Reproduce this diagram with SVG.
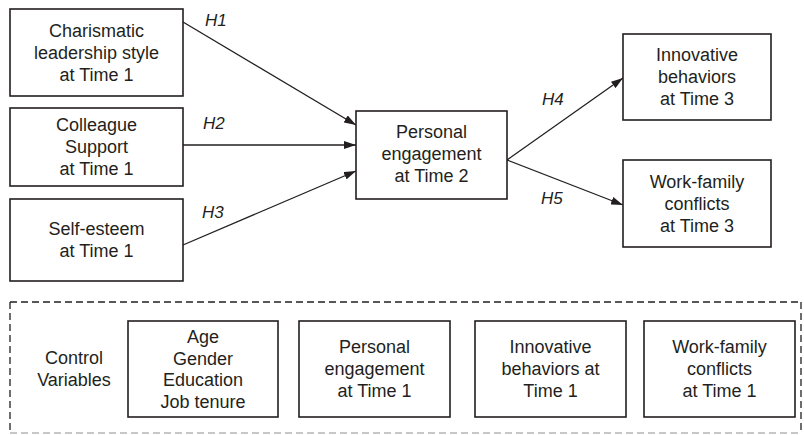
<svg xmlns="http://www.w3.org/2000/svg" width="804" height="435" viewBox="0 0 804 435">
<style>
.box{fill:#fff;stroke:#231f20;stroke-width:1.6}
.t{font-family:"Liberation Sans",Arial,sans-serif;font-size:18px;fill:#231f20;text-anchor:middle}
.h{font-family:"Liberation Sans",Arial,sans-serif;font-size:17px;font-style:italic;fill:#231f20}
.c{stroke:#231f20;stroke-width:1.3;fill:none;marker-end:url(#ah)}
.d{stroke:#231f20;stroke-width:1.3;stroke-dasharray:7 4;fill:none}
</style>
<defs>
<marker id="ah" viewBox="0 0 12 8" refX="12" refY="4" markerWidth="12" markerHeight="8" markerUnits="userSpaceOnUse" orient="auto">
<path d="M0,0 L12,4 L0,8 Z" fill="#231f20"/>
</marker>
</defs>
<rect width="804" height="435" fill="#fff"/>
<g id="connectors">
<line class="c" x1="183" y1="22" x2="356" y2="125"/>
<line class="c" x1="183" y1="145" x2="356" y2="145"/>
<line class="c" x1="183" y1="245" x2="356" y2="171"/>
<line class="c" x1="507" y1="160" x2="623" y2="78"/>
<line class="c" x1="507" y1="160" x2="623" y2="205"/>
<text class="h" x="205" y="26">H1</text>
<text class="h" x="203" y="129">H2</text>
<text class="h" x="202" y="218">H3</text>
<text class="h" x="542" y="105">H4</text>
<text class="h" x="541" y="204">H5</text>
</g>
<g id="charismatic">
<rect class="box" x="10" y="9" width="173" height="87"/>
<text class="t" x="96.5" y="37">Charismatic</text>
<text class="t" x="96.5" y="59">leadership style</text>
<text class="t" x="96.5" y="81">at Time 1</text>
</g>
<g id="colleague">
<rect class="box" x="10" y="108" width="173" height="78"/>
<text class="t" x="96.5" y="131">Colleague</text>
<text class="t" x="96.5" y="153">Support</text>
<text class="t" x="96.5" y="175">at Time 1</text>
</g>
<g id="selfesteem">
<rect class="box" x="10" y="199" width="173" height="82"/>
<text class="t" x="96.5" y="235">Self-esteem</text>
<text class="t" x="96.5" y="257">at Time 1</text>
</g>
<g id="engagement2">
<rect class="box" x="356" y="111" width="151" height="88"/>
<text class="t" x="431.5" y="138">Personal</text>
<text class="t" x="431.5" y="160">engagement</text>
<text class="t" x="431.5" y="182">at Time 2</text>
</g>
<g id="innovative3">
<rect class="box" x="623" y="34" width="148" height="86"/>
<text class="t" x="697" y="61">Innovative</text>
<text class="t" x="697" y="83">behaviors</text>
<text class="t" x="697" y="105">at Time 3</text>
</g>
<g id="workfamily3">
<rect class="box" x="623" y="160" width="148" height="87"/>
<text class="t" x="697" y="188">Work-family</text>
<text class="t" x="697" y="210">conflicts</text>
<text class="t" x="697" y="232">at Time 3</text>
</g>
<g id="controls">
<line class="d" x1="10" y1="302" x2="801" y2="302"/>
<line class="d" x1="10" y1="302" x2="10" y2="433"/>
<line class="d" x1="801" y1="302" x2="801" y2="433"/>
<line class="d" x1="10" y1="433" x2="801" y2="433" style="stroke:#b5b5b5"/>
<text class="t" x="74" y="364">Control</text>
<text class="t" x="74" y="386">Variables</text>
</g>
<g id="demographics">
<rect class="box" x="128" y="321" width="150" height="96"/>
<text class="t" x="203" y="343">Age</text>
<text class="t" x="203" y="365">Gender</text>
<text class="t" x="203" y="386">Education</text>
<text class="t" x="203" y="408">Job tenure</text>
</g>
<g id="engagement1">
<rect class="box" x="299" y="321" width="151" height="96"/>
<text class="t" x="374.5" y="353">Personal</text>
<text class="t" x="374.5" y="375">engagement</text>
<text class="t" x="374.5" y="397">at Time 1</text>
</g>
<g id="innovative1">
<rect class="box" x="475" y="321" width="151" height="96"/>
<text class="t" x="550.5" y="353">Innovative</text>
<text class="t" x="550.5" y="375">behaviors at</text>
<text class="t" x="550.5" y="397">Time 1</text>
</g>
<g id="workfamily1">
<rect class="box" x="644" y="321" width="151" height="96"/>
<text class="t" x="719.5" y="353">Work-family</text>
<text class="t" x="719.5" y="375">conflicts</text>
<text class="t" x="719.5" y="397">at Time 1</text>
</g>
</svg>
